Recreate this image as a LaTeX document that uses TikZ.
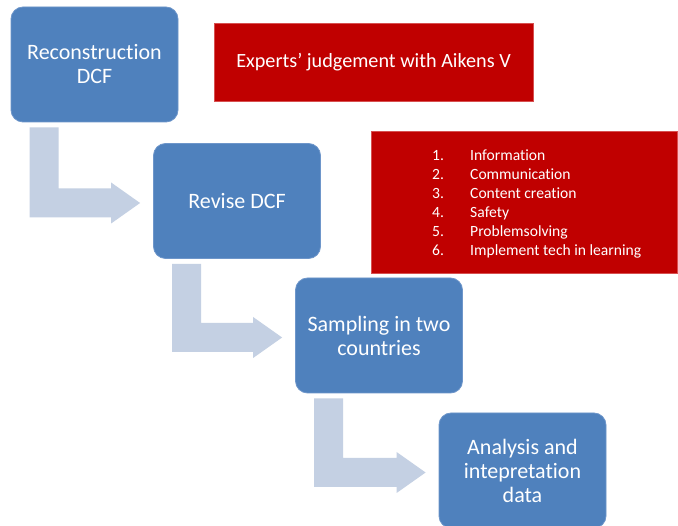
\documentclass[tikz,border=0pt]{standalone}
\usepackage{fontspec}
\setmainfont{Carlito}[Ligatures=NoCommon]
\usetikzlibrary{calc}
\definecolor{boxblue}{RGB}{79,129,189}
\definecolor{boxedge}{RGB}{110,150,202}
\definecolor{arrgrey}{RGB}{196,208,227}
\definecolor{darkred}{RGB}{192,0,0}
\definecolor{rededge}{RGB}{215,80,80}
\tikzset{
  stepbox/.style={draw=boxedge, line width=0.8pt, fill=boxblue, rounded corners=12pt,
    minimum width=167pt, minimum height=115pt, text=white, align=center,
    font=\fontsize{22pt}{24pt}\selectfont, inner sep=0pt},
  redbox/.style={draw=rededge, line width=0.6pt, fill=darkred, inner sep=0pt},
  arr/.style={fill=arrgrey},
  listnum/.style={anchor=base west, text=white, inner sep=0pt, font=\fontsize{15.6pt}{19pt}\selectfont},
}
\newcommand\bentarr[2]{%
  \fill[arr] let \p1=(#1.south west), \p2=(#2.west) in
    (\x1+19pt,\y1-5pt) -- (\x1+48pt,\y1-5pt) -- (\x1+48pt,\y2-2pt+14.5pt)
    -- (\x2-13pt-29pt,\y2-2pt+14.5pt) -- (\x2-13pt-29pt,\y2-2pt+20.5pt)
    -- (\x2-13pt,\y2-2pt) -- (\x2-13pt-29pt,\y2-2pt-20.5pt)
    -- (\x2-13pt-29pt,\y2-2pt-14.5pt) -- (\x1+19pt,\y2-2pt-14.5pt) -- cycle;}
\begin{document}
\begin{tikzpicture}[x=1pt,y=-1pt]
\clip (0,0) rectangle (678,526);
\fill[white] (0,0) rectangle (678,526);
\node[stepbox] (b1) at (94.5,64.5) {Reconstruction\\DCF};
\node[stepbox] (b2) at (237,201) {Revise DCF};
\node[stepbox] (b3) at (379,335.5) {Sampling in two\\countries};
\node[stepbox] (b4) at (522.5,470.5) {Analysis and\\intepretation\\data};
\bentarr{b1}{b2}
\bentarr{b2}{b3}
\bentarr{b3}{b4}
\node[redbox, minimum width=319pt, minimum height=78pt, text=white,
  font=\fontsize{20.2pt}{24pt}\selectfont] (r1) at (373.5,62) {Experts’ judgement with Aikens V};
\node[redbox, minimum width=306pt, minimum height=142pt] (r2) at (524,202) {};
\foreach \i/\t in {1/Information,2/Communication,3/Content creation,4/Safety,5/Problemsolving,6/Implement tech in learning}{
  \node[listnum] (n\i) at (432,{161+19*(\i-1)}) {\i.};
  \node[listnum] (t\i) at (470,{161+19*(\i-1)}) {\t};
}
\end{tikzpicture}
\end{document}
